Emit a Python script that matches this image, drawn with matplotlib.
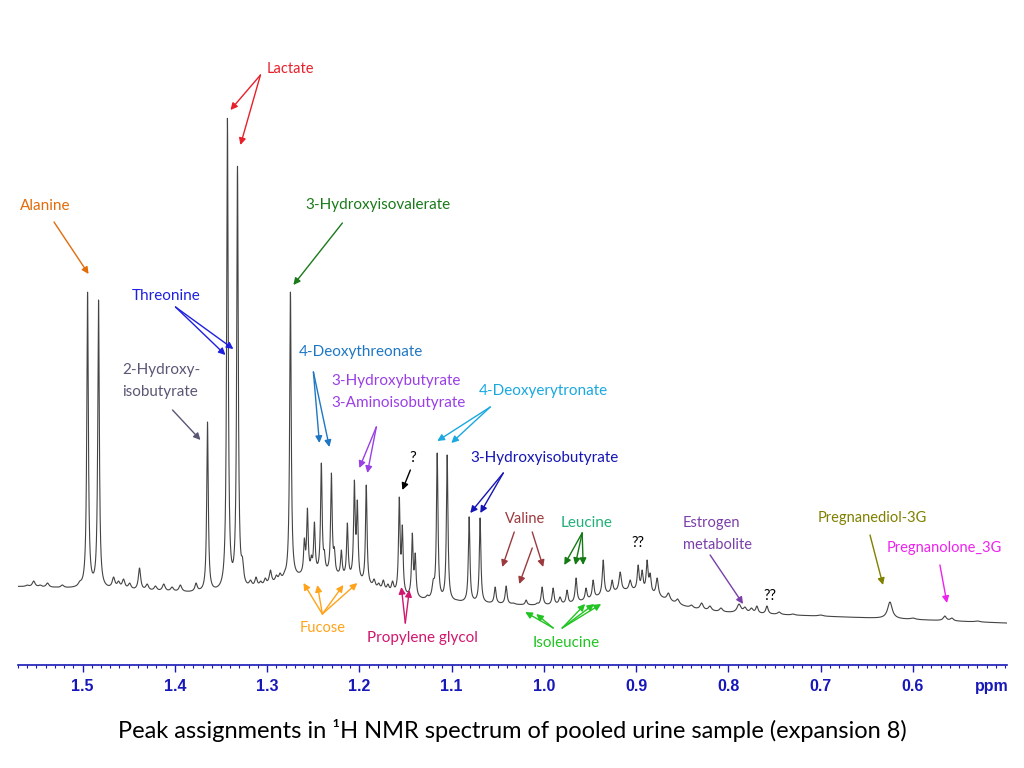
import numpy as np
import matplotlib.pyplot as plt
from matplotlib.ticker import MultipleLocator, FormatStrFormatter

# peaks: position (ppm), apex height (axis units), half width (ppm)
peak_ppm = [1.560, 1.553, 1.546, 1.538, 1.530, 1.522, 1.513, 1.503, 1.4946, 1.4827,
            1.4664, 1.4610, 1.4556, 1.4490, 1.4383, 1.430, 1.421, 1.412, 1.403, 1.394,
            1.3770, 1.3646, 1.3560, 1.3430, 1.3321, 1.3267, 1.3180, 1.3120, 1.3070, 1.3020,
            1.2964, 1.2900, 1.2860, 1.2810, 1.2747, 1.2596, 1.2563, 1.2520, 1.2487, 1.2412,
            1.2379, 1.2303, 1.2271, 1.2195, 1.2130, 1.2054, 1.2022, 1.1925, 1.1840, 1.1790,
            1.1740, 1.1690, 1.1640, 1.1567, 1.1534, 1.1426, 1.1394, 1.1330, 1.1264, 1.1199,
            1.1156, 1.1048, 1.0940, 1.0880, 1.0810, 1.0691, 1.0600, 1.0528, 1.0409, 1.0330,
            1.0192, 1.0073, 1.0019, 0.9900, 0.9825, 0.9749, 0.9651, 0.9543, 0.9466, 0.9357,
            0.9260, 0.9173, 0.9065, 0.8978, 0.8935, 0.8881, 0.8848, 0.8772, 0.8650, 0.8550,
            0.8400, 0.8290, 0.8200, 0.8080, 0.7885, 0.7820, 0.7750, 0.7691, 0.7582, 0.7450,
            0.7300, 0.7000, 0.6249, 0.6000, 0.5654, 0.5578, 0.5300]
peak_top = [80, 84, 80, 82, 78, 80, 77, 84, 373, 365,
            88, 84, 86, 82, 97, 81, 79, 81, 78, 80,
            82, 243, 77, 547, 499, 108, 85, 88, 84, 87,
            95, 90, 92, 94, 373, 127, 157, 110, 143, 202,
            115, 192, 118, 115, 142, 185, 165, 180, 86, 82,
            85, 81, 84, 168, 140, 132, 112, 68, 70, 86,
            212, 210, 65, 63, 148, 147, 63, 78, 79, 62,
            65, 62, 78, 77, 68, 75, 87, 77, 85, 105,
            85, 93, 85, 100, 95, 105, 92, 87, 72, 66,
            60, 62, 59, 57, 61, 58, 57, 59, 59, 53,
            51, 50, 63, 47, 49, 47, 44]
peak_hw = [.0018, .0018, .0018, .0018, .0018, .0018, .0018, .002, .001, .001,
           .0018, .0018, .0018, .0018, .0015, .0018, .0018, .0018, .0018, .0018,
           .0015, .001, .002, .001, .001, .0015, .0018, .0015, .0015, .0015,
           .0015, .0015, .0015, .0015, .001, .001, .001, .001, .001, .001,
           .001, .001, .001, .001, .001, .001, .001, .001, .0015, .0015,
           .0015, .0015, .0015, .001, .001, .001, .001, .002, .0015, .0015,
           .001, .001, .002, .002, .001, .001, .002, .0012, .0012, .002,
           .0012, .0012, .0012, .0012, .0015, .0012, .0012, .0012, .0012, .0012,
           .0012, .0015, .0015, .0012, .0012, .0012, .0012, .0015, .002, .002,
           .002, .002, .002, .002, .0025, .002, .002, .0015, .0015, .002,
           .002, .003, .003, .003, .002, .002, .003]

# baseline: sloping line plus two broad humps
base_end = 42
base_slope = 34
bump_ppm = [1.24, 0.905]
bump_height = [22, 18]
bump_sigma = [0.045, 0.035]


def baseline(p):
    b = base_end + base_slope * (p - 0.5)
    for c, h, s in zip(bump_ppm, bump_height, bump_sigma):
        b = b + h * np.exp(-0.5 * ((p - c) / s) ** 2)
    return b


def lorentz(p, c, w):
    return w ** 2 / ((p - c) ** 2 + w ** 2)


pp = np.array(peak_ppm)
hw = np.array(peak_hw)
# peak amplitudes so that the apexes reach the read heights
A = lorentz(pp[:, None], pp[None, :], hw[None, :])
amp = np.linalg.solve(A, np.array(peak_top) - baseline(pp))
amp = np.clip(amp, 0, None)

x = np.linspace(1.57, 0.498, 14000)
y = baseline(x) + (amp[None, :] * lorentz(x[:, None], pp[None, :], hw[None, :])).sum(axis=1)

# labels: text, colour, ppm, height, alignment, size
labels = [
    ("Lactate", "#e8202a", 1.2747, 596, "center", 10.5),
    ("Alanine", "#e36c0a", 1.540, 459, "center", 11),
    ("3-Hydroxyisovalerate", "#1a7a1a", 1.1794, 460, "center", 11),
    ("Threonine", "#1f1fe0", 1.409, 369, "center", 11),
    ("2-Hydroxy-\nisobutyrate", "#5b5675", 1.4567, 284, "left", 11),
    ("4-Deoxythreonate", "#1f77c4", 1.1978, 313, "center", 11),
    ("3-Hydroxybutyrate\n3-Aminoisobutyrate", "#9a3fe6", 1.2303, 273, "left", 11),
    ("4-Deoxyerytronate", "#1aa8e0", 1.0007, 274, "center", 11),
    ("?", "black", 1.1426, 207, "center", 11),
    ("3-Hydroxyisobutyrate", "#1515b5", 0.9996, 207, "center", 11),
    ("Valine", "#9b3a3e", 1.0202, 146, "center", 10.5),
    ("Leucine", "#22b07a", 0.9541, 142, "center", 11),
    ("??", "black", 0.8978, 122, "center", 10.5),
    ("Estrogen\nmetabolite", "#7a3fa8", 0.8491, 131, "left", 10.5),
    ("??", "black", 0.7548, 69, "center", 10.5),
    ("Pregnanediol-3G", "#808000", 0.6444, 147, "center", 10.5),
    ("Pregnanolone_3G", "#ee22ee", 0.5664, 117, "center", 10.5),
    ("Fucose", "#ffa31a", 1.2401, 37, "center", 10.5),
    ("Propylene glycol", "#d0176e", 1.1318, 27, "center", 11),
    ("Isoleucine", "#22c422", 0.9758, 22, "center", 11),
]

# arrows: colour, start, tip
arrows = [
    ("#e8202a", (1.3072, 590), (1.3397, 555)),
    ("#e8202a", (1.3072, 590), (1.3289, 520)),
    ("#e36c0a", (1.531, 443), (1.4935, 391)),
    ("#1a7a1a", (1.2184, 442), (1.2715, 380)),
    ("#1f1fe0", (1.3993, 358), (1.3451, 310)),
    ("#1f1fe0", (1.3993, 358), (1.3365, 316)),
    ("#5b5675", (1.4025, 255), (1.3722, 225)),
    ("#1f77c4", (1.2498, 293), (1.2433, 222)),
    ("#1f77c4", (1.2498, 293), (1.2325, 218)),
    ("#9a3fe6", (1.1816, 238), (1.2000, 197)),
    ("#9a3fe6", (1.1816, 238), (1.1913, 192)),
    ("#1aa8e0", (1.0581, 258), (1.1155, 224)),
    ("#1aa8e0", (1.0581, 258), (1.1003, 222)),
    ("black", (1.1447, 195), (1.1534, 175)),
    ("#1515b5", (1.0440, 192), (1.0798, 152)),
    ("#1515b5", (1.0440, 192), (1.0689, 152)),
    ("#9b3a3e", (1.0321, 133), (1.0451, 98)),
    ("#9b3a3e", (1.0126, 117), (1.0267, 81)),
    ("#9b3a3e", (1.0126, 133), (1.0007, 98)),
    ("#137a13", (0.9585, 132), (0.9779, 100)),
    ("#137a13", (0.9585, 132), (0.9660, 100)),
    ("#137a13", (0.9585, 132), (0.9574, 100)),
    ("#7a3fa8", (0.8198, 110), (0.7841, 61)),
    ("#808000", (0.6465, 130), (0.6324, 80)),
    ("#ee22ee", (0.5707, 100), (0.5631, 62)),
    ("#ffa31a", (1.2401, 51), (1.2606, 82)),
    ("#ffa31a", (1.2401, 51), (1.2455, 80)),
    ("#ffa31a", (1.2401, 51), (1.2173, 80)),
    ("#ffa31a", (1.2401, 51), (1.2022, 82)),
    ("#d0176e", (1.1502, 42), (1.1545, 78)),
    ("#d0176e", (1.1502, 42), (1.1458, 75)),
    ("#22c422", (0.9899, 37), (1.0202, 53)),
    ("#22c422", (0.9899, 37), (1.0083, 51)),
    ("#22c422", (0.9801, 37), (0.9552, 61)),
    ("#22c422", (0.9801, 37), (0.9455, 61)),
    ("#22c422", (0.9801, 37), (0.9379, 61)),
]

title = "Peak assignments in \u00b9H NMR spectrum of pooled urine sample (expansion 8)"

axis_blue = "#1818b8"

fig = plt.figure(figsize=(10.24, 7.68), dpi=100)
ax = fig.add_axes([18 / 1024, 103 / 768, 989 / 1024, 625 / 768])
ax.plot(x, y, color="#444444", lw=0.8)
ax.set_xlim(1.57, 0.498)
ax.set_ylim(0, 625)

for s in ["top", "left", "right"]:
    ax.spines[s].set_visible(False)
ax.spines["bottom"].set_color(axis_blue)
ax.spines["bottom"].set_linewidth(1.2)
ax.set_yticks([])
ax.set_xticks(np.arange(0.6, 1.51, 0.1))
ax.xaxis.set_major_formatter(FormatStrFormatter("%.1f"))
ax.xaxis.set_minor_locator(MultipleLocator(0.01))
ax.tick_params(axis="x", which="major", length=5, width=1, color=axis_blue, pad=5,
               labelcolor=axis_blue, labelsize=11.5)
ax.tick_params(axis="x", which="minor", length=2.5, width=0.8, color=axis_blue)
for lab in ax.get_xticklabels():
    lab.set_fontfamily("Liberation Sans")
    lab.set_fontweight("bold")
ax.annotate("ppm", xy=(0.515, 0), xycoords=("data", "axes fraction"), xytext=(0, -15.5),
            textcoords="offset points", ha="center", va="center", color=axis_blue,
            fontsize=11.5, fontweight="bold", family="Liberation Sans")

for txt, c, px, py, ha, sz in labels:
    ax.text(px, py, txt, color=c, ha=ha, va="center", fontsize=sz, family="Lato",
            linespacing=1.75)

for c, start, tip in arrows:
    ax.annotate("", xy=tip, xytext=start,
                arrowprops=dict(arrowstyle="-|>", color=c, lw=1.0, mutation_scale=10,
                                shrinkA=0, shrinkB=0))

fig.text(0.5, 1 - 731 / 768, title, ha="center", va="center", fontsize=17, family="Lato")

fig.savefig("out.png", dpi=100)
